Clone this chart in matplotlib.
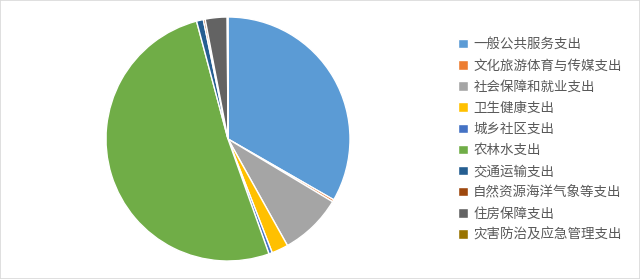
import matplotlib
matplotlib.use('Agg')
import matplotlib.pyplot as plt
from matplotlib.patches import Rectangle

plt.rcParams['font.family'] = ['Noto Sans CJK SC', 'DejaVu Sans']

# 各项支出占比 (%)
categories = ['一般公共服务支出', '文化旅游体育与传媒支出', '社会保障和就业支出', '卫生健康支出',
              '城乡社区支出', '农林水支出', '交通运输支出', '自然资源海洋气象等支出',
              '住房保障支出', '灾害防治及应急管理支出']
shares = [33.3, 0.3, 8.3, 2.2, 0.45, 51.3, 0.9, 0.25, 2.9, 0.1]
colors = ['#5B9BD5', '#ED7D31', '#A5A5A5', '#FFC000', '#4472C4',
          '#70AD47', '#255E91', '#9E480E', '#636363', '#997300']

fig = plt.figure(figsize=(6.4, 2.79), dpi=100)
ax = fig.add_axes([(228 - 122) / 640, 1 - (139 + 122) / 279, 244 / 640, 244 / 279])

wedges, _ = ax.pie(shares, colors=colors, startangle=90, counterclock=False,
                   wedgeprops=dict(edgecolor='white', linewidth=1.0))
ax.set_xlim(-1, 1)
ax.set_ylim(-1, 1)
ax.set_aspect('equal')

leg = fig.legend(wedges, categories, loc='upper left', bbox_to_anchor=(453 / 640, 1 - 32 / 279),
                 frameon=False, fontsize=9.7, handlelength=0.7, handleheight=0.7,
                 handletextpad=0.4, labelspacing=0.53, borderaxespad=0)
for t in leg.get_texts():
    t.set_color('#595959')

# 外框
fig.patches.append(Rectangle((0, 0), 1, 1, transform=fig.transFigure, fill=False,
                             edgecolor='#D9D9D9', linewidth=1.2))

plt.savefig('out.png', dpi=100)
